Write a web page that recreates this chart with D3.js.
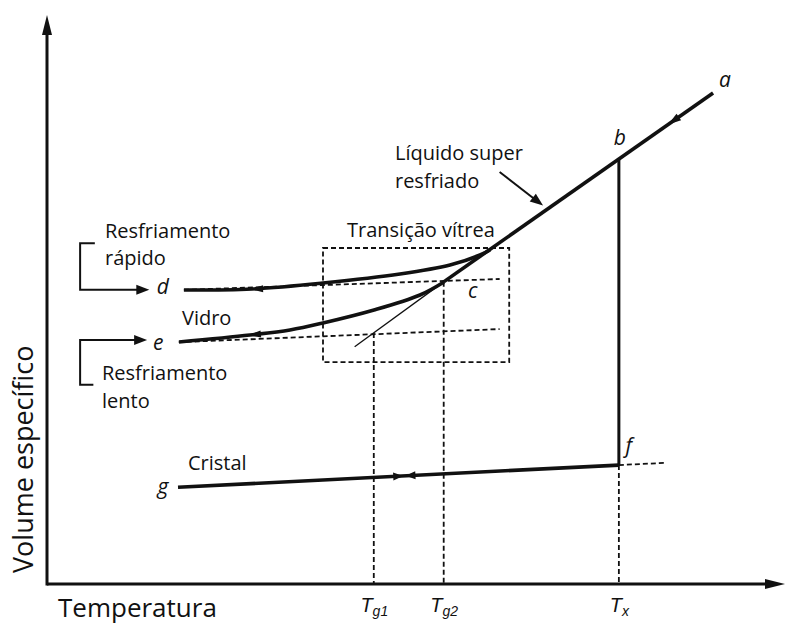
<!DOCTYPE html>
<html>
<head>
<meta charset="utf-8">
<script src="https://cdn.jsdelivr.net/npm/d3@7"></script>
<style>
  body { margin: 0; background: #fff; }
  svg { font-family: "Open Sans", sans-serif; }
</style>
</head>
<body>
<svg id="chart"></svg>
<script>
// data in schematic units (temperature 0-100, specific volume 0-100)
const tickValues = [44.4, 53.9, 77.7];
const tickSubs = ["g1", "g2", "x"];

const liquidLine = [[90.5, 86.3], [53.9, 53.1]];          // a -> c
const tangentLine = [[53.9, 53.1], [41.8, 41.7]];         // extrapolated liquid
const fastCurve = [[18.6, 51.67], [27.85, 51.85], [37.5, 52.9], [47.96, 54.48], [54.76, 56.06], [58.83, 57.82], [60.19, 58.7]];
const slowCurve = [[17.93, 42.53], [27.58, 43.76], [33.02, 44.64], [37.5, 45.87], [44.43, 48.15], [50.68, 50.79], [53.94, 53.08]];
const fastGlassDash = [[18.6, 51.7], [61.5, 53.6]];
const slowGlassDash = [[17.9, 42.5], [61.5, 44.8]];
const crystalLine = [[77.7, 20.9], [17.8, 17.0]];         // f -> g
const crystalDash = [[77.7, 20.9], [84.2, 21.3]];
const meltDrop = [[77.7, 74.5], [77.7, 20.9]];            // b -> f
const transitionBox = [[37.5, 59.05], [62.8, 39.0]];
const guideTops = [44.1, 53.1, 20.9];                     // where the Tg1, Tg2, Tx guides start

const pointLabels = [
  { t: "a", x: 91.3, y: 87.3 },
  { t: "b", x: 77.0, y: 77.2 },
  { t: "c", x: 57.2, y: 50.2 },
  { t: "d", x: 14.9, y: 50.9 },
  { t: "e", x: 14.4, y: 41.1 },
  { t: "f", x: 78.6, y: 23.0 },
  { t: "g", x: 15.0, y: 15.9 }
];
const textLabels = [
  { t: "Resfriamento", x: 7.88, y: 60.81 },
  { t: "rápido", x: 7.88, y: 56.06 },
  { t: "Vidro", x: 18.34, y: 45.52 },
  { t: "Resfriamento", x: 7.47, y: 35.85 },
  { t: "lento", x: 7.47, y: 30.93 },
  { t: "Transição vítrea", x: 40.76, y: 60.98 },
  { t: "Líquido super", x: 47.28, y: 74.52 },
  { t: "resfriado", x: 47.28, y: 69.6 },
  { t: "Cristal", x: 19.16, y: 20.04 }
];

const W = 786, H = 626;
const svg = d3.select("#chart").attr("width", W).attr("height", H);

const x = d3.scaleLinear().domain([0, 100]).range([47, 783]);
const y = d3.scaleLinear().domain([0, 100]).range([584, 15]);

const line = d3.line().x(d => x(d[0])).y(d => y(d[1]));
const smooth = d3.line().x(d => x(d[0])).y(d => y(d[1])).curve(d3.curveCatmullRom.alpha(0.5));

function arrowHead(g, px, py, ang, len, half) {
  const c = Math.cos(ang), s = Math.sin(ang);
  const bx = px - c * len, by = py - s * len;
  g.append("path")
   .attr("d", `M${px},${py}L${bx - s * half},${by + c * half}L${bx + s * half},${by - c * half}Z`)
   .attr("fill", "#111");
}

// arrowhead placed on a segment, pointing along it
function arrowOn(seg, at, len, half) {
  const x0 = x(seg[0][0]), y0 = y(seg[0][1]), x1 = x(seg[1][0]), y1 = y(seg[1][1]);
  const ang = Math.atan2(y1 - y0, x1 - x0);
  const t = (x(at) - x0) / (x1 - x0);
  arrowHead(svg, x0 + t * (x1 - x0), y0 + t * (y1 - y0), ang, len, half);
}

// axes (no ticks, just the frame and labels)
const xAxis = svg.append("g")
  .attr("transform", `translate(0,${y(0)})`)
  .call(d3.axisBottom(x).tickValues(tickValues).tickSize(0).tickSizeOuter(0).tickFormat(""));
xAxis.select(".domain").attr("stroke", "#111").attr("stroke-width", 3).attr("d", `M${x(0)},0H${x(100) - 12}`);
xAxis.selectAll(".tick text").each(function(d, i) {
  const t = d3.select(this)
    .attr("y", 28).attr("dy", 0)
    .attr("font-size", 20).attr("font-style", "italic").attr("fill", "#111")
    .attr("text-anchor", "middle");
  t.append("tspan").text("T");
  t.append("tspan").attr("font-size", 14).attr("dy", 4).text(tickSubs[i]);
});
arrowHead(svg, x(100) + 2, y(0), 0, 20, 5);

const yAxis = svg.append("g")
  .attr("transform", `translate(${x(0)},0)`)
  .call(d3.axisLeft(y).tickValues([]).tickSize(0).tickSizeOuter(0));
yAxis.select(".domain").attr("stroke", "#111").attr("stroke-width", 3).attr("d", `M0,${y(0) + 1.5}V${y(100) + 12}`);
arrowHead(svg, x(0), y(100), -Math.PI / 2, 20, 5);

svg.append("text")
   .attr("x", 58).attr("y", 617)
   .attr("font-size", 26).attr("fill", "#111")
   .text("Temperatura");

svg.append("text")
   .attr("transform", "translate(33,573) rotate(-90)")
   .attr("font-size", 27).attr("fill", "#111")
   .text("Volume específico");

// dashed guides
const dash = svg.append("g").attr("fill", "none").attr("stroke", "#111")
  .attr("stroke-width", 1.8).attr("stroke-dasharray", "5 3");

tickValues.forEach((v, i) => {
  dash.append("path").attr("d", line([[v, guideTops[i]], [v, 0]]));
});
dash.append("path").attr("d", line(fastGlassDash));
dash.append("path").attr("d", line(slowGlassDash));
dash.append("path").attr("d", line(crystalDash));
dash.append("rect")
    .attr("x", x(transitionBox[0][0]))
    .attr("y", y(transitionBox[0][1]))
    .attr("width", x(transitionBox[1][0]) - x(transitionBox[0][0]))
    .attr("height", y(transitionBox[1][1]) - y(transitionBox[0][1]));

// curves
const solid = svg.append("g").attr("fill", "none").attr("stroke", "#111").attr("stroke-linecap", "butt");
solid.append("path").attr("d", line(tangentLine)).attr("stroke-width", 1.3);
solid.append("path").attr("d", line(liquidLine)).attr("stroke-width", 3.6);
solid.append("path").attr("d", smooth(fastCurve)).attr("stroke-width", 3.6);
solid.append("path").attr("d", smooth(slowCurve)).attr("stroke-width", 3.6);
solid.append("path").attr("d", line(crystalLine)).attr("stroke-width", 3.6);
solid.append("path").attr("d", line(meltDrop)).attr("stroke-width", 3);

// direction arrows on the curves
arrowOn(liquidLine, 84.4, 13, 4);
arrowOn([fastCurve[1], fastCurve[0]], 27.6, 13, 3.5);
arrowOn([slowCurve[1], slowCurve[0]], 27.3, 13, 3.5);
arrowOn(crystalLine, 48.7, 10, 4);
arrowOn([crystalLine[1], crystalLine[0]], 48.4, 10, 4);

// brackets for cooling rates
const brackets = svg.append("g").attr("fill", "none").attr("stroke", "#111").attr("stroke-width", 2);
brackets.append("path").attr("d", line([[6.5, 59.9], [4.5, 59.9], [4.5, 51.7], [12.3, 51.7]]));
arrowHead(svg, x(13.9), y(51.7), 0, 13, 5);
brackets.append("path").attr("d", line([[6.3, 35.0], [4.5, 35.0], [4.5, 42.9], [12.0, 42.9]]));
arrowHead(svg, x(13.6), y(42.9), 0, 13, 5);

// pointer to supercooled liquid
brackets.append("path").attr("d", line([[61.5, 72.4], [66.4, 67.5]]));
arrowOn([[61.5, 72.4], [67.4, 66.5]], 67.4, 13, 5);

// labels
svg.append("g").selectAll("text").data(pointLabels).join("text")
   .attr("x", d => x(d.x)).attr("y", d => y(d.y))
   .attr("font-size", 21).attr("font-style", "italic").attr("fill", "#111")
   .text(d => d.t);

svg.append("g").selectAll("text").data(textLabels).join("text")
   .attr("x", d => x(d.x)).attr("y", d => y(d.y))
   .attr("font-size", 20).attr("fill", "#111")
   .text(d => d.t);
</script>
</body>
</html>
